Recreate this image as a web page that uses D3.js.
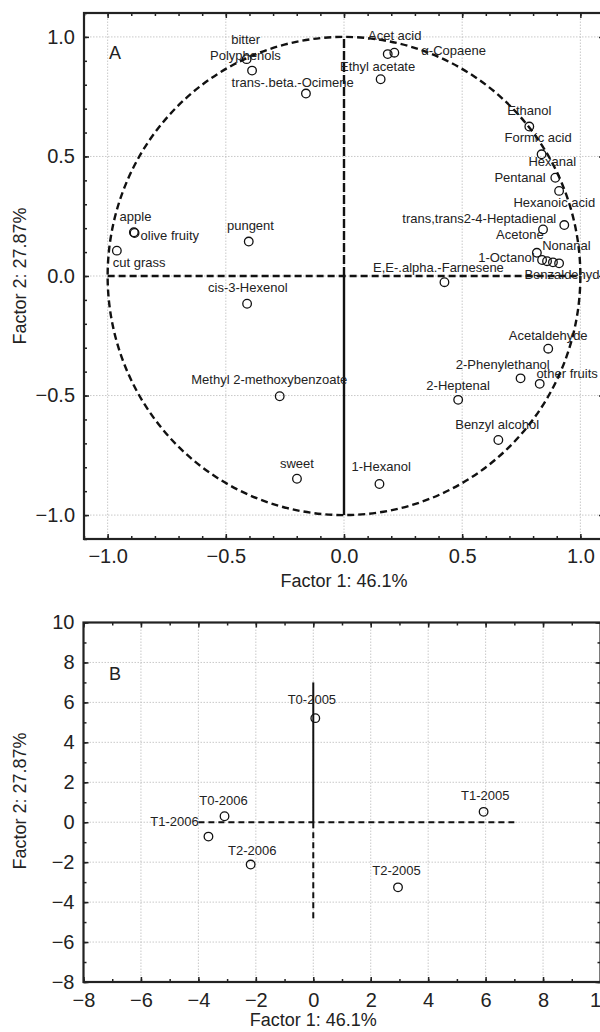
<!DOCTYPE html>
<html>
<head>
<meta charset="utf-8">
<script src="https://cdn.jsdelivr.net/npm/d3@7"></script>
<style>
  body { margin: 0; background: #fff; }
  text { font-family: "Liberation Sans", Arial, sans-serif; fill: #222; }
</style>
</head>
<body>
<svg id="chart" width="600" height="1032"></svg>
<script>
// panel A: variable loadings
var varNames = ["bitter", "Polyphenols", "trans-.beta.-Ocimene", "Acet acid", "\u03b1-Copaene",
  "Ethyl acetate", "Ethanol", "Formic acid", "Hexanal", "Pentanal", "Hexanoic acid",
  "trans,trans2-4-Heptadienal", "Acetone", "Nonanal", "1-Octanol", "Benzaldehyde", "",
  "apple", "olive fruity", "cut grass", "pungent", "cis-3-Hexenol", "Methyl 2-methoxybenzoate",
  "sweet", "1-Hexanol", "E,E-.alpha.-Farnesene", "Acetaldehyde", "2-Phenylethanol",
  "other fruits", "2-Heptenal", "Benzyl alcohol"];
var varF1 = [-0.412, -0.389, -0.161, 0.185, 0.213, 0.155, 0.784, 0.836, 0.894, 0.910, 0.932,
  0.842, 0.816, 0.884, 0.838, 0.910, 0.859, -0.889, -0.886, -0.961, -0.403, -0.410, -0.272,
  -0.199, 0.150, 0.425, 0.864, 0.747, 0.828, 0.483, 0.653];
var varF2 = [0.907, 0.859, 0.763, 0.928, 0.934, 0.823, 0.625, 0.509, 0.411, 0.356, 0.213,
  0.195, 0.097, 0.057, 0.067, 0.053, 0.062, 0.183, 0.180, 0.106, 0.144, -0.116, -0.503,
  -0.848, -0.870, -0.026, -0.304, -0.428, -0.451, -0.518, -0.686];

// panel B: sample scores
var sampleNames = ["T0-2005", "T1-2005", "T2-2005", "T0-2006", "T1-2006", "T2-2006"];
var sampleF1 = [0.07, 5.93, 2.95, -3.09, -3.65, -2.18];
var sampleF2 = [5.21, 0.52, -3.26, 0.30, -0.72, -2.12];

var ticksA = [-1, -0.5, 0, 0.5, 1];
var ticksB = [-8, -6, -4, -2, 0, 2, 4, 6, 8, 10];

// hand placed label offsets (dx, dy, anchor) like the original
var labelPosA = [[-1,-15],[-6.6,-10.7],[-13.3,-7],[7,-14],[27,2,"start"],[-3,-8.6],[0,-11.7],
  [-3.5,-12.6],[-3,-12],[-39,-9.3],[-10,-18.3],[-63.7,-6],[-17,-13.4],[13.5,-12.3],[-35.7,1.7],
  [-34.7,16,"start"],[0,0],[-14.3,-11.6,"start"],[6,7,"start"],[-4,16,"start"],[1.7,-11.7],
  [0.7,-12],[-10.4,-12],[0,-10.4],[1.7,-13],[-6,-10.6],[0,-8.7],[-17.8,-9],[27.4,-5.4],
  [0,-9.7],[-1.2,-11]];
var labelPosB = [[-3.4,-13.7],[1.7,-12],[-1.5,-12.7],[-1,-11.7],[-34,-10.7],[1.6,-10]];

var svg = d3.select("#chart");

function drawFrame(g, x, y, grid, minor, major, fmt, padX) {
  var x0 = x.range()[0], x1 = x.range()[1], y0 = y.range()[0], y1 = y.range()[1];

  // grid
  g.selectAll(".gx").data(grid).enter().append("line")
    .attr("x1", function(d) { return x(d); }).attr("x2", function(d) { return x(d); })
    .attr("y1", y0).attr("y2", y1)
    .attr("stroke", "#bbb").attr("stroke-width", 0.8).attr("stroke-dasharray", "1.5,1.5");
  g.selectAll(".gy").data(grid).enter().append("line")
    .attr("y1", function(d) { return y(d); }).attr("y2", function(d) { return y(d); })
    .attr("x1", x0).attr("x2", x1)
    .attr("stroke", "#bbb").attr("stroke-width", 0.8).attr("stroke-dasharray", "1.5,1.5");

  // inward ticks on all four sides
  [[d3.axisTop(x), "translate(0," + y1 + ")", minor, 3], [d3.axisTop(x), "translate(0," + y1 + ")", major, 5],
   [d3.axisBottom(x), "translate(0," + y0 + ")", minor, 3], [d3.axisBottom(x), "translate(0," + y0 + ")", major, 5],
   [d3.axisLeft(y), "translate(" + x0 + ",0)", minor, 3], [d3.axisLeft(y), "translate(" + x0 + ",0)", major, 5],
   [d3.axisRight(y), "translate(" + x1 + ",0)", minor, 3], [d3.axisRight(y), "translate(" + x1 + ",0)", major, 5]]
  .forEach(function(a) {
    g.append("g").attr("transform", a[1])
      .call(a[0].tickValues(a[2]).tickSize(-a[3]).tickFormat(""))
      .call(function(s) { s.select(".domain").remove(); })
      .selectAll("line").attr("stroke", "#222").attr("stroke-width", 1.5);
  });

  g.append("rect")
    .attr("x", x0).attr("y", y1)
    .attr("width", x1 - x0).attr("height", y0 - y1)
    .attr("fill", "none").attr("stroke", "#222").attr("stroke-width", 2.2);

  // tick labels
  g.append("g").attr("transform", "translate(0," + y0 + ")")
    .call(d3.axisBottom(x).tickValues(major).tickSize(0).tickPadding(padX).tickFormat(fmt))
    .call(function(s) { s.select(".domain").remove(); })
    .selectAll("text").attr("font-size", 20).attr("fill", "#222")
    .attr("font-family", "Liberation Sans, Arial, sans-serif");
  g.append("g").attr("transform", "translate(" + x0 + ",0)")
    .call(d3.axisLeft(y).tickValues(major).tickSize(0).tickPadding(9).tickFormat(fmt))
    .call(function(s) { s.select(".domain").remove(); })
    .selectAll("text").attr("font-size", 20).attr("fill", "#222")
    .attr("font-family", "Liberation Sans, Arial, sans-serif");
}

function drawPoints(g, x, y, f1, f2, names, pos) {
  g.selectAll(".pt").data(names).enter().append("circle")
    .attr("cx", function(d, i) { return x(f1[i]); })
    .attr("cy", function(d, i) { return y(f2[i]); })
    .attr("r", 4.3)
    .attr("fill", "none").attr("stroke", "#111").attr("stroke-width", 1.3);
  g.selectAll(".lb").data(names).enter().append("text")
    .attr("x", function(d, i) { return x(f1[i]) + pos[i][0]; })
    .attr("y", function(d, i) { return y(f2[i]) + pos[i][1]; })
    .attr("text-anchor", function(d, i) { return pos[i][2] || "middle"; })
    .attr("font-size", 13).attr("fill", "#333")
    .text(function(d) { return d; });
}

// ---------- panel A ----------
var xA = d3.scaleLinear().domain([-1.1, 1.1]).range([84, 604]);
var yA = d3.scaleLinear().domain([-1.1, 1.1]).range([539, 13]);
var gA = svg.append("g");
drawFrame(gA, xA, yA, ticksA, d3.range(-11, 12).map(function(i) { return i / 10; }),
  ticksA, d3.format(".1f"), 9.5);

gA.append("ellipse")
  .attr("cx", xA(0)).attr("cy", yA(0))
  .attr("rx", xA(1) - xA(0)).attr("ry", yA(0) - yA(1))
  .attr("fill", "none").attr("stroke", "#111").attr("stroke-width", 2.4)
  .attr("stroke-dasharray", "7,4");
gA.append("line")
  .attr("x1", xA(-1)).attr("x2", xA(1)).attr("y1", yA(0)).attr("y2", yA(0))
  .attr("stroke", "#111").attr("stroke-width", 2.4).attr("stroke-dasharray", "7,4");
gA.append("line")
  .attr("x1", xA(0)).attr("x2", xA(0)).attr("y1", yA(0)).attr("y2", yA(1))
  .attr("stroke", "#111").attr("stroke-width", 2.4).attr("stroke-dasharray", "9,3");
gA.append("line")
  .attr("x1", xA(0)).attr("x2", xA(0)).attr("y1", yA(0)).attr("y2", yA(-1))
  .attr("stroke", "#111").attr("stroke-width", 2.4);

drawPoints(gA, xA, yA, varF1, varF2, varNames, labelPosA);

gA.append("text").attr("x", 109).attr("y", 59).attr("font-size", 18).text("A");
gA.append("text").attr("x", (xA.range()[0] + xA.range()[1]) / 2).attr("y", 587)
  .attr("text-anchor", "middle").attr("font-size", 18).text("Factor 1: 46.1%");
gA.append("text").attr("transform", "translate(26,276) rotate(-90)")
  .attr("text-anchor", "middle").attr("font-size", 18).text("Factor 2: 27.87%");

// ---------- panel B ----------
var xB = d3.scaleLinear().domain([-8, 10]).range([83.5, 600.5]);
var yB = d3.scaleLinear().domain([-8, 10]).range([982, 622.5]);
var gB = svg.append("g");
drawFrame(gB, xB, yB, ticksB, d3.range(-8, 11), ticksB, d3.format("d"), 10.5);

gB.append("line")
  .attr("x1", xB(-4)).attr("x2", xB(7)).attr("y1", yB(0)).attr("y2", yB(0))
  .attr("stroke", "#111").attr("stroke-width", 2).attr("stroke-dasharray", "6,4");
gB.append("line")
  .attr("x1", xB(0)).attr("x2", xB(0)).attr("y1", yB(0)).attr("y2", yB(7))
  .attr("stroke", "#111").attr("stroke-width", 2);
gB.append("line")
  .attr("x1", xB(0)).attr("x2", xB(0)).attr("y1", yB(0)).attr("y2", yB(-5))
  .attr("stroke", "#111").attr("stroke-width", 2).attr("stroke-dasharray", "6,4");

drawPoints(gB, xB, yB, sampleF1, sampleF2, sampleNames, labelPosB);

gB.append("text").attr("x", 109).attr("y", 680).attr("font-size", 18).text("B");
gB.append("text").attr("x", xB(0)).attr("y", 1026)
  .attr("text-anchor", "middle").attr("font-size", 18).text("Factor 1: 46.1%");
gB.append("text").attr("transform", "translate(26,801) rotate(-90)")
  .attr("text-anchor", "middle").attr("font-size", 18).text("Factor 2: 27.87%");
</script>
</body>
</html>
